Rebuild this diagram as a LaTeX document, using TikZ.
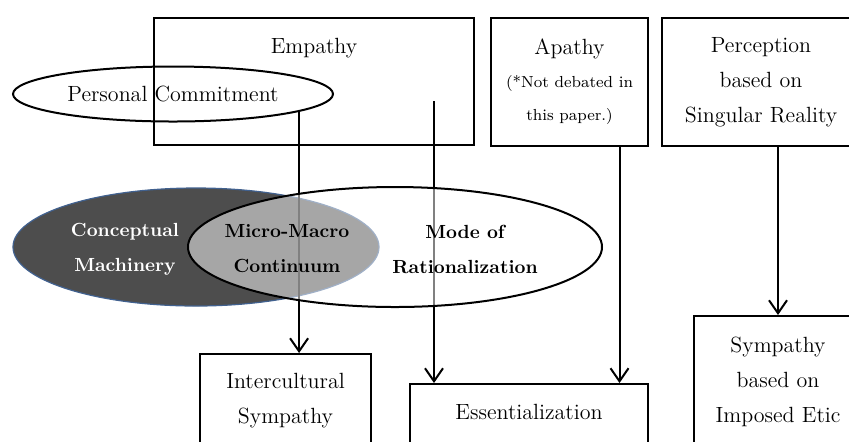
\documentclass[tikz,border=0pt]{standalone}
\usetikzlibrary{calc,shapes.geometric,arrows.meta}
\definecolor{darkfill}{HTML}{4D4D4D}
\definecolor{ovalblue}{HTML}{41618F}

\begin{document}
\begin{tikzpicture}[x=0.5pt,y=-0.5pt,
        box/.style={draw,line width=1pt,rectangle,inner sep=0pt,align=center,font={\fontsize{11}{17.5}\selectfont}},
        oval/.style={ellipse,inner sep=0pt,line width=1pt},
        bold/.style={align=center,font={\fontsize{9.5}{17.5}\selectfont\bfseries}},
        arr/.style={-{Straight Barb[length=6.5pt,width=9pt]},line width=1pt}]
    \clip (0,0) rectangle (849,441);

    \node[box,anchor=north west,minimum width=160pt,text height=17.5pt,text depth=46pt] (emp) at (153,17) {Empathy};
    \node[box,anchor=north west,minimum width=78.5pt,minimum height=64pt] (ap) at (490,17) {
        Apathy\\[-1pt]
        {\fontsize{8}{15}\selectfont (*Not debated in}\\[-1pt]
        {\fontsize{8}{15}\selectfont this paper.)}
    };
    \node[box,anchor=north west,minimum width=99pt,minimum height=64pt] (pb) at (661,17) {
        Perception\\
        based on\\
        Singular Reality
    };

    \node[oval,draw,minimum width=160pt,minimum height=27.5pt,font={\fontsize{11}{13}\selectfont}] (pc) at (173,94) {Personal Commitment};

    \node[box,anchor=north west,minimum width=85.5pt,minimum height=47pt] (ic) at (199,353) {
        Intercultural\\
        Sympathy
    };
    \node[box,anchor=north west,minimum width=119pt,text height=17.5pt,text depth=25pt] (ess) at (409,383) {Essentialization};
    \node[box,anchor=north west,minimum width=84pt,minimum height=66pt] (sy) at (693,315) {
        Sympathy\\
        based on\\
        Imposed Etic
    };

    \node[oval,fill=darkfill,draw=ovalblue,line width=0.6pt,minimum width=183pt,minimum height=59pt] (cm) at (196,247) {};

    \coordinate (empout) at (434,101);
    \coordinate (apout) at ($(ap.south)+(50,0)$);
    \draw[arr] (pc.-8.5) -- (pc.-8.5 |- ic.north);
    \draw[arr] (empout) -- (empout |- ess.north);
    \draw[arr] (apout) -- (apout |- ess.north);
    \draw[arr] (pb.south -| sy.north) -- (sy.north);

    \node[oval,draw,fill=white,fill opacity=0.5,minimum width=207pt,minimum height=60pt] (mr) at (395,247) {};

    \node[bold,text=white] (cmtext) at (125,249) {Conceptual\\Machinery};
    \node[bold] (mmtext) at (287,249) {Micro-Macro\\Continuum};
    \node[bold] (mrtext) at (465,249) {Mode of\\Rationalization};
\end{tikzpicture}
\end{document}
